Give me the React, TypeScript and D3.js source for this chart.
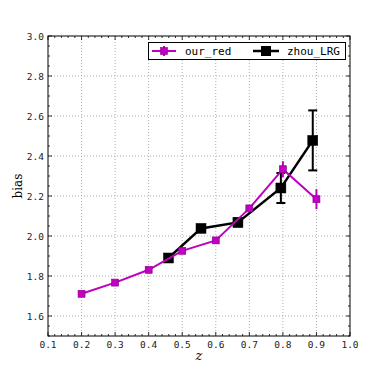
import * as d3 from "d3";

const redZ = [0.2, 0.3, 0.4, 0.5, 0.6, 0.7, 0.8, 0.9];
const redBias = [1.711, 1.767, 1.831, 1.926, 1.978, 2.138, 2.334, 2.184];
const redErr = [0.008, 0.008, 0.008, 0.01, 0.01, 0.015, 0.04, 0.05];

const zhouZ = [0.459, 0.556, 0.666, 0.794, 0.889];
const zhouBias = [1.89, 2.038, 2.068, 2.24, 2.478];
const zhouErr = [0.02, 0.01, 0.02, 0.075, 0.15];

const xTicks = [0.1, 0.2, 0.3, 0.4, 0.5, 0.6, 0.7, 0.8, 0.9, 1.0];
const yTicks = [1.6, 1.8, 2.0, 2.2, 2.4, 2.6, 2.8, 3.0];

const W = 390;
const H = 374;
const m = { left: 48, right: 350, top: 36, bottom: 336 };
const RED = "#bf00bf";
const MONO = "'DejaVu Sans Mono', monospace";
const SERIF = "'DejaVu Serif', serif";

export default function App() {
  const x = d3.scaleLinear().domain([0.1, 1.0]).range([m.left, m.right]);
  const y = d3.scaleLinear().domain([1.5, 3.0]).range([m.bottom, m.top]);

  const xMinor = d3.range(0.1, 1.0001, 0.02);
  const yMinor = d3.range(1.5, 3.0001, 0.05);

  const line = d3
    .line<[number, number]>()
    .x((d) => x(d[0]))
    .y((d) => y(d[1]));

  const redPts = redZ.map((z, i) => [z, redBias[i]] as [number, number]);
  const zhouPts = zhouZ.map((z, i) => [z, zhouBias[i]] as [number, number]);

  return (
    <svg
      width={W}
      height={H}
      style={{ position: "absolute", left: 0, top: 0, background: "#fff" }}
    >
      {/* grid */}
      <g stroke="#999" strokeWidth={0.8} strokeDasharray="1,2">
        {xTicks.slice(1, -1).map((t) => (
          <line key={"gx" + t} x1={x(t)} x2={x(t)} y1={m.top} y2={m.bottom} />
        ))}
        {yTicks.slice(0, -1).map((t) => (
          <line key={"gy" + t} x1={m.left} x2={m.right} y1={y(t)} y2={y(t)} />
        ))}
      </g>

      {/* ticks, all four sides, pointing in */}
      <g stroke="#000" strokeWidth={0.8}>
        {xMinor.map((t, i) => {
          const len = i % 5 === 0 ? 4 : 2;
          return (
            <g key={"tx" + i}>
              <line x1={x(t)} x2={x(t)} y1={m.bottom} y2={m.bottom - len} />
              <line x1={x(t)} x2={x(t)} y1={m.top} y2={m.top + len} />
            </g>
          );
        })}
        {yMinor.map((t, i) => {
          const len = (i + 2) % 4 === 0 ? 4 : 2;
          return (
            <g key={"ty" + i}>
              <line x1={m.left} x2={m.left + len} y1={y(t)} y2={y(t)} />
              <line x1={m.right} x2={m.right - len} y1={y(t)} y2={y(t)} />
            </g>
          );
        })}
      </g>

      {/* zhou_LRG */}
      <g stroke="#000" strokeWidth={2}>
        <path d={line(zhouPts) ?? ""} fill="none" strokeWidth={2.5} />
        {zhouZ.map((z, i) => (
          <g key={"ze" + i}>
            <line x1={x(z)} x2={x(z)} y1={y(zhouBias[i] - zhouErr[i])} y2={y(zhouBias[i] + zhouErr[i])} />
            <line x1={x(z) - 4.5} x2={x(z) + 4.5} y1={y(zhouBias[i] - zhouErr[i])} y2={y(zhouBias[i] - zhouErr[i])} />
            <line x1={x(z) - 4.5} x2={x(z) + 4.5} y1={y(zhouBias[i] + zhouErr[i])} y2={y(zhouBias[i] + zhouErr[i])} />
          </g>
        ))}
        {zhouPts.map((p, i) => (
          <rect key={"zm" + i} x={x(p[0]) - 5} y={y(p[1]) - 5} width={10} height={10} fill="#000" strokeWidth={0.5} />
        ))}
      </g>

      {/* our_red */}
      <g stroke={RED} strokeWidth={2}>
        <path d={line(redPts) ?? ""} fill="none" />
        {redZ.map((z, i) => (
          <line key={"re" + i} x1={x(z)} x2={x(z)} y1={y(redBias[i] - redErr[i])} y2={y(redBias[i] + redErr[i])} />
        ))}
        {redPts.map((p, i) => (
          <rect key={"rm" + i} x={x(p[0]) - 3.5} y={y(p[1]) - 3.5} width={7} height={7} fill={RED} stroke="#8a008a" strokeWidth={0.6} />
        ))}
      </g>

      {/* frame */}
      <rect x={m.left} y={m.top} width={m.right - m.left} height={m.bottom - m.top} fill="none" stroke="#000" strokeWidth={1} />

      {/* tick labels */}
      <g fontFamily={MONO} fontSize={9.5} fill="#222">
        {xTicks.map((t) => (
          <text key={"lx" + t} x={x(t)} y={m.bottom + 12} textAnchor="middle">
            {d3.format(".1f")(t)}
          </text>
        ))}
        {yTicks.map((t) => (
          <text key={"ly" + t} x={m.left - 4} y={y(t) + 3.5} textAnchor="end">
            {d3.format(".1f")(t)}
          </text>
        ))}
      </g>

      {/* axis titles */}
      <text x={(m.left + m.right) / 2} y={360} textAnchor="middle" fontFamily={SERIF} fontStyle="italic" fontSize={13}>
        z
      </text>
      <text
        transform={`translate(22,${(m.top + m.bottom) / 2}) rotate(-90)`}
        textAnchor="middle"
        fontFamily={SERIF}
        fontSize={12}
      >
        bias
      </text>

      {/* legend */}
      <g>
        <rect x={148.5} y={42.5} width={197} height={17} fill="#fff" stroke="#000" strokeWidth={1} />
        <line x1={152} x2={176} y1={51} y2={51} stroke={RED} strokeWidth={2} />
        <line x1={164} x2={164} y1={46} y2={56} stroke={RED} strokeWidth={2} />
        <rect x={160.5} y={47.5} width={7} height={7} fill={RED} stroke="#8a008a" strokeWidth={0.6} />
        <text x={185} y={54.5} fontFamily={MONO} fontSize={11}>our_red</text>
        <line x1={253} x2={279} y1={51} y2={51} stroke="#000" strokeWidth={2.5} />
        <rect x={261} y={46} width={10} height={10} fill="#000" />
        <text x={287} y={54.5} fontFamily={MONO} fontSize={11}>zhou_LRG</text>
      </g>
    </svg>
  );
}
